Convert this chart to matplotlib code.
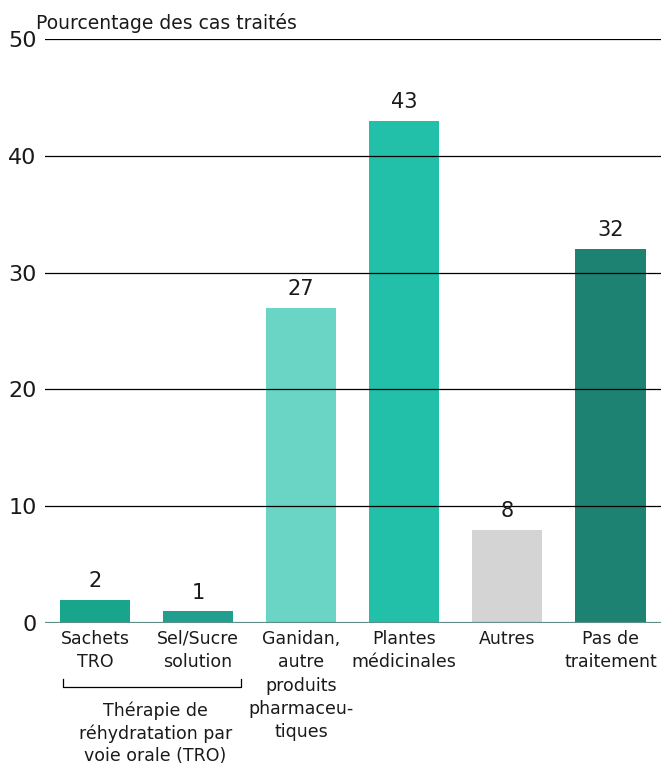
import matplotlib
matplotlib.use("Agg")
import matplotlib.pyplot as plt

categories = [
    "Sachets\nTRO",
    "Sel/Sucre\nsolution",
    "Ganidan,\nautre\nproduits\npharmaceu-\ntiques",
    "Plantes\nmédicinales",
    "Autres",
    "Pas de\ntraitement",
]
values = [2, 1, 27, 43, 8, 32]
bar_colors = ["#17a68b", "#229e8e", "#6ad5c4", "#22c0a9", "#d4d4d4", "#1d8272"]
y_ticks = [0, 10, 20, 30, 40, 50]
group_label = "Thérapie de\nréhydratation par\nvoie orale (TRO)"
title = "Pourcentage des cas traités"

plt.rcParams["font.family"] = ["DejaVu Sans"]

fig = plt.figure(figsize=(6.61, 7.67), dpi=100)
ax = fig.add_axes([45 / 661, 1 - 623 / 767, 1 - 45 / 661, (623 - 39) / 767])

xs = list(range(len(values)))
ax.bar(xs, values, width=0.68, color=bar_colors, zorder=2)

for v in y_ticks[1:]:
    ax.axhline(v, color="black", lw=0.9, zorder=3)
ax.axhline(0, color="#5f8f88", lw=1.6, zorder=3)

for x, v in zip(xs, values):
    ax.text(x, v + 0.75, str(v), ha="center", va="bottom", fontsize=15, color="#1a1a1a")

ax.set_xlim(-0.485, 5.49)
ax.set_ylim(0, 50)
ax.set_yticks(y_ticks)
ax.set_yticklabels([str(t) for t in y_ticks], fontsize=16, color="#1a1a1a")
ax.set_xticks(xs)
ax.set_xticklabels(categories, fontsize=12.5, linespacing=1.38, color="#1a1a1a")
ax.tick_params(axis="both", length=0)
ax.tick_params(axis="y", pad=6)
ax.tick_params(axis="x", pad=5)
for s in ax.spines.values():
    s.set_visible(False)

# bracket grouping the two oral rehydration bars
trans = ax.get_xaxis_transform()
bx0, bx1 = -0.31, 1.42
yb = -0.11
ax.plot([bx0, bx0, bx1, bx1], [yb + 0.014, yb, yb, yb + 0.014], transform=trans,
        color="black", lw=0.9, clip_on=False)
ax.text((bx0 + bx1) / 2 + 0.03, yb - 0.025, group_label, transform=trans, ha="center",
        va="top", fontsize=12.5, linespacing=1.3, color="#1a1a1a")

fig.text(36 / 661, 1 - 29 / 767, title, fontsize=13.5, color="#1a1a1a", va="baseline")

fig.savefig("out.png", dpi=100)
